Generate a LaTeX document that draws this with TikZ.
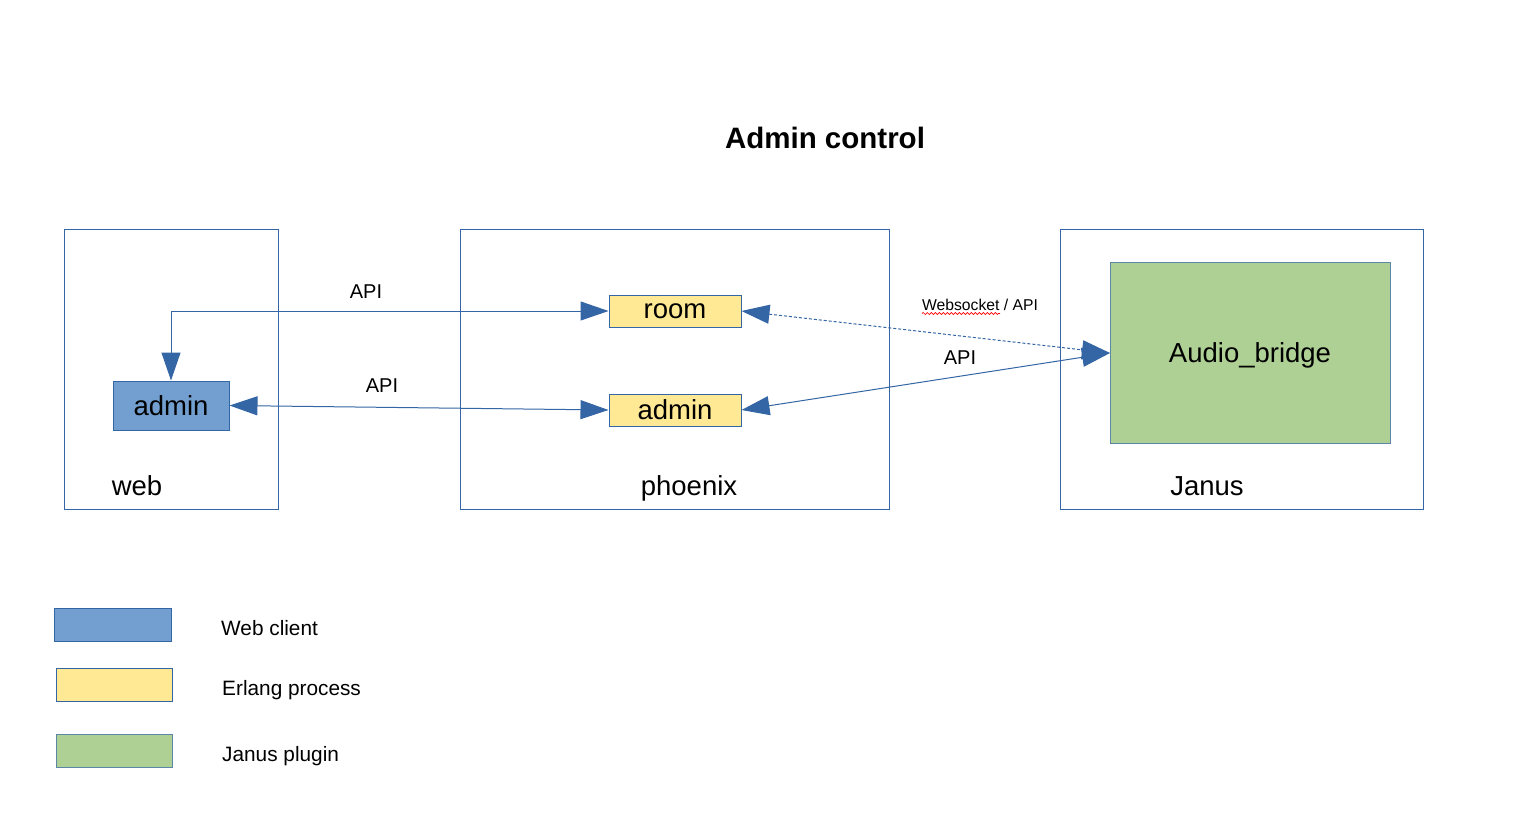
\documentclass[tikz,border=0pt]{standalone}
\usepackage{fontspec}
\setmainfont{Liberation Sans}
\usetikzlibrary{arrows.meta,decorations.pathmorphing}
\definecolor{lnblue}{HTML}{3465A4}
\definecolor{fblue}{HTML}{729FCF}
\definecolor{fyellow}{HTML}{FFE994}
\definecolor{fgreen}{HTML}{AFD095}
\definecolor{gborder}{HTML}{5B86A6}
\tikzset{
  frame/.style={draw=lnblue, line width=1pt},
  box/.style={draw=lnblue, line width=1pt, inner sep=0pt, font=\fontsize{27.5}{30}\selectfont},
  lbl/.style={inner sep=0pt, anchor=base},
  conn/.style={draw=lnblue, line width=1pt, {Triangle[length=28pt,width=19pt]}-{Triangle[length=28pt,width=19pt]}},
}
\begin{document}
\begin{tikzpicture}[x=1pt,y=-1pt]
\useasboundingbox (0,0) rectangle (1533,839);
% title
\node[lbl, font=\bfseries\fontsize{29.5}{32}\selectfont] (title) at (825,148) {Admin control};
% outer frames
\draw[frame] (64,229) rectangle (278,509);
\draw[frame] (460,229) rectangle (889,509);
\draw[frame] (1060,229) rectangle (1423,509);
% frame labels
\node[lbl, font=\fontsize{27.5}{30}\selectfont] (webl) at (137,495) {web};
\node[lbl, font=\fontsize{27.5}{30}\selectfont] (phxl) at (689,495) {phoenix};
\node[lbl, font=\fontsize{27.5}{30}\selectfont] (janl) at (1207,495) {Janus};
% inner nodes
\node[box, fill=fyellow, minimum width=132pt, minimum height=32pt] (room) at (675,311) {room};
\node[box, fill=fyellow, minimum width=132pt, minimum height=32pt] (padmin) at (675,410) {admin};
\node[box, fill=fblue, minimum width=116pt, minimum height=49pt] (wadmin) at (171,405.5) {admin};
\node[box, draw=gborder, fill=fgreen, minimum width=280pt, minimum height=181pt] (ab) at (1250,352.5) {};
\node[lbl, font=\fontsize{27.5}{30}\selectfont] (abl) at (1250,362) {Audio\_bridge};
\coordinate (abin) at (1110,353);
% connectors
\draw[conn] (room.west) -- (171,311) -- (wadmin.north);
\draw[conn] (padmin.west) -- (wadmin.east);
\draw[conn, dashed, dash pattern=on 3pt off 2pt] (room.east) -- (abin);
\draw[conn] (padmin.east) -- (abin);
% connector labels
\node[lbl, font=\fontsize{20}{22}\selectfont] (api1) at (366,298) {API};
\node[lbl, font=\fontsize{20}{22}\selectfont] (api2) at (382,392) {API};
\node[lbl, font=\fontsize{20}{22}\selectfont] (api3) at (960,364) {API};
\node[lbl, font=\fontsize{15.7}{18}\selectfont] (ws) at (980,310) {Websocket / API};
\draw[red, line width=0.7pt, decorate, decoration={snake, segment length=4pt, amplitude=1pt}] (922,313.5) -- (1000,313.5);
% legend
\node[box, fill=fblue, minimum width=117pt, minimum height=33pt] (lg1) at (112.5,624.5) {};
\node[box, fill=fyellow, minimum width=116pt, minimum height=33pt] (lg2) at (114,684.5) {};
\node[box, draw=gborder, fill=fgreen, minimum width=116pt, minimum height=33pt] (lg3) at (114,750.5) {};
\node[inner sep=0pt, anchor=base west, font=\fontsize{20.8}{23}\selectfont] (lt1) at (221,635) {Web client};
\node[inner sep=0pt, anchor=base west, font=\fontsize{20.8}{23}\selectfont] (lt2) at (222,695) {Erlang process};
\node[inner sep=0pt, anchor=base west, font=\fontsize{20.8}{23}\selectfont] (lt3) at (222,761) {Janus plugin};
\end{tikzpicture}
\end{document}
